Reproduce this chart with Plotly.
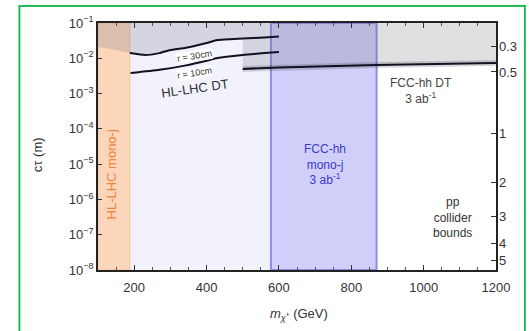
import plotly.graph_objects as go

# HL-LHC displaced-track reach, r = 30 cm (upper) and r = 10 cm (lower)
mass_r30 = [100, 150, 188, 230, 270, 300, 340, 400, 430, 500, 560, 600]
ct_r30 = [0.021, 0.0172, 0.0141, 0.0124, 0.014, 0.0172, 0.0195, 0.0271, 0.033, 0.0364, 0.039, 0.0414]
mass_r10 = [190, 270, 340, 400, 430, 500, 600]
ct_r10 = [0.0038, 0.0047, 0.0062, 0.0085, 0.0102, 0.0124, 0.015]

# FCC-hh displaced-track reach, 3 ab^-1
mass_fcc_dt = [500, 600, 870, 1200]
ct_fcc_dt = [0.0050, 0.0055, 0.0065, 0.0074]

# mono-jet mass ranges (GeV)
hl_monoj = [100, 188]
fcc_monoj = [578, 870]
fcc_monoj_weak = [100, 578]

# right axis: mass splitting labels and matching c*tau
dm_labels = ["0.3", "0.5", "1", "2", "3", "4", "5"]
dm_ct = [0.021, 0.0041, 7.6e-5, 3.1e-6, 3.2e-7, 5.8e-8, 1.9e-8]

# left axis decades
y_exps = [-8, -7, -6, -5, -4, -3, -2, -1]
x_ticks = [200, 400, 600, 800, 1000, 1200]

FONT = "Liberation Sans, Arial, sans-serif"
CT_MIN, CT_MAX = 1e-8, 1e-1

fig = go.Figure()

# weak mono-jet band
fig.add_shape(type="rect", xref="x", yref="paper", x0=fcc_monoj_weak[0], x1=fcc_monoj_weak[1],
              y0=0, y1=1, fillcolor="#f2f2fd", line_width=0, layer="below")
# FCC-hh mono-jet band
fig.add_shape(type="rect", xref="x", yref="paper", x0=fcc_monoj[0], x1=fcc_monoj[1],
              y0=0, y1=1, fillcolor="#cfcff9", line=dict(color="#8e8ee6", width=2), layer="below")
# HL-LHC mono-jet band
fig.add_shape(type="rect", xref="x", yref="paper", x0=hl_monoj[0], x1=hl_monoj[1],
              y0=0, y1=1, fillcolor="#fbd6bb", line=dict(color="#f4c09c", width=1), layer="below")

# excluded region above the displaced-track curves
split = mass_fcc_dt[0]
lower_x = [m for m in mass_r30 if m <= split] + mass_fcc_dt
lower_y = [c for m, c in zip(mass_r30, ct_r30) if m <= split] + ct_fcc_dt
poly_x = lower_x + [mass_fcc_dt[-1], mass_r30[0]]
poly_y = lower_y + [CT_MAX, CT_MAX]
fig.add_trace(go.Scatter(x=poly_x, y=poly_y, fill="toself", mode="none",
                         fillcolor="rgba(110,110,125,0.21)", hoverinfo="skip", showlegend=False))

# curves
r30_x = [m for m in mass_r30 if m >= hl_monoj[1]]
r30_y = [c for m, c in zip(mass_r30, ct_r30) if m >= hl_monoj[1]]
fig.add_trace(go.Scatter(x=r30_x, y=r30_y, mode="lines",
                         line=dict(color="#111122", width=2, shape="spline", smoothing=0.5),
                         showlegend=False))
fig.add_trace(go.Scatter(x=mass_r10, y=ct_r10, mode="lines",
                         line=dict(color="#111122", width=2, shape="spline", smoothing=0.5),
                         showlegend=False))
fig.add_trace(go.Scatter(x=mass_fcc_dt, y=ct_fcc_dt, mode="lines",
                         line=dict(color="rgba(0,0,0,0.15)", width=6), showlegend=False))
fig.add_trace(go.Scatter(x=mass_fcc_dt, y=ct_fcc_dt, mode="lines",
                         line=dict(color="#111122", width=2), showlegend=False))

# dummy trace for the right axis
fig.add_trace(go.Scatter(x=[None], y=[None], yaxis="y2", showlegend=False))

ann = []
ann.append(dict(text="HL-LHC mono-j", x=138, y=-5.3, xref="x", yref="y", textangle=-90,
                showarrow=False, font=dict(color="#f0843a", size=13, family=FONT)))
ann.append(dict(text="FCC-hh<br>mono-j<br>3 ab<sup>-1</sup>", x=726, y=-5.02, xref="x", yref="y",
                showarrow=False, font=dict(color="#3a3acc", size=12, family=FONT)))
ann.append(dict(text="FCC-hh DT<br>3 ab<sup>-1</sup>", x=994, y=-2.93, xref="x", yref="y",
                showarrow=False, font=dict(color="#444444", size=12, family=FONT)))
ann.append(dict(text="pp<br>collider<br>bounds", x=1079, y=-6.52, xref="x", yref="y",
                showarrow=False, font=dict(color="#333333", size=12, family=FONT)))
ann.append(dict(text="r = 30cm", x=367, y=-1.935, xref="x", yref="y", textangle=-9,
                showarrow=False, bgcolor="white", borderpad=0,
                font=dict(color="#333333", size=9, family=FONT)))
ann.append(dict(text="r = 10cm", x=367, y=-2.417, xref="x", yref="y", textangle=-9,
                showarrow=False, bgcolor="white", borderpad=0,
                font=dict(color="#333333", size=9, family=FONT)))
ann.append(dict(text="HL-LHC DT", x=367, y=-2.87, xref="x", yref="y", textangle=-8,
                showarrow=False, font=dict(color="#333333", size=13, family=FONT)))
# axis titles
ann.append(dict(text="cτ (m)", x=-0.15, y=0.466, xref="paper", yref="paper", textangle=-90,
                xanchor="center", yanchor="middle",
                showarrow=False, font=dict(color="#333333", size=13, family=FONT)))
ann.append(dict(text="<i>m</i><sub><i>χ</i><sup>+</sup></sub> (GeV)", x=0.505, y=-0.182,
                xref="paper", yref="paper", xanchor="center", yanchor="middle", showarrow=False,
                font=dict(color="#333333", size=13, family=FONT)))

# green frame around the figure
fig.add_shape(type="rect", xref="paper", yref="paper", x0=-0.1975, x1=1.0725, y0=-0.27, y1=1.0688,
              line=dict(color="#22bb55", width=2), fillcolor="rgba(0,0,0,0)")

fig.update_layout(
    width=529, height=331,
    margin=dict(l=98, r=31, t=23, b=61),
    paper_bgcolor="white", plot_bgcolor="white",
    font=dict(family=FONT, size=13, color="#333333"),
    annotations=ann,
    xaxis=dict(range=[100, 1200], tickvals=x_ticks, ticks="inside", ticklen=5, tickcolor="#333",
               showline=True, linecolor="#222", linewidth=1.5, mirror="ticks", showgrid=False,
               zeroline=False, minor=dict(dtick=50, ticks="inside", ticklen=3, tickcolor="#555"),
               tickfont=dict(size=13, color="#333"), ticklabelstandoff=5, layer="above traces"),
    yaxis=dict(type="log", range=[-8, -1], tickvals=[10.0 ** e for e in y_exps],
               ticktext=["10<sup>−%d</sup>" % (-e) for e in y_exps],
               ticks="inside", ticklen=4, tickcolor="#333", showline=True, linecolor="#222",
               linewidth=1.5, mirror=True, showgrid=False, zeroline=False,
               tickfont=dict(size=13, color="#333")),
    yaxis2=dict(type="log", range=[-8, -1], overlaying="y", side="right", tickvals=dm_ct,
                ticktext=dm_labels, ticks="inside", ticklen=5, tickcolor="#333",
                showgrid=False, zeroline=False, showline=False, ticklabelstandoff=2,
                tickfont=dict(size=13, color="#333")),
)

fig.write_html("out.html")
